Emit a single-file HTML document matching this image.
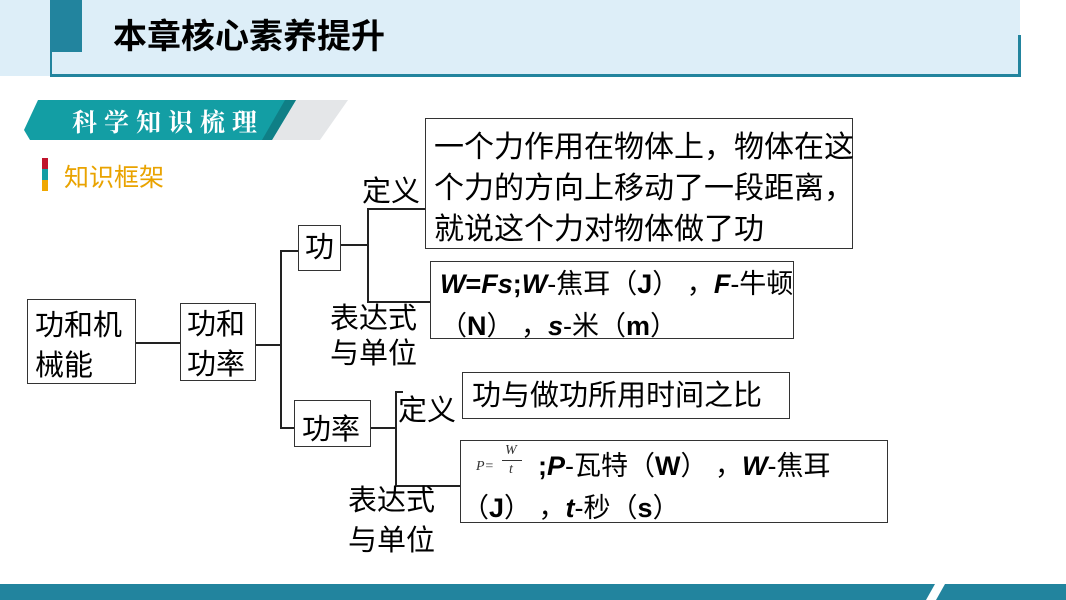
<!DOCTYPE html>
<html><head><meta charset="utf-8"><style>
body{margin:0;width:1066px;height:600px;position:relative;overflow:hidden;background:#fff;font-family:"Liberation Sans","Noto Sans CJK SC",sans-serif;}
.a{position:absolute;}
.box{position:absolute;border:1.5px solid #333;box-sizing:border-box;}
.t{position:absolute;font-size:29px;color:#000;white-space:nowrap;line-height:40px;}
.hl{position:absolute;height:2px;background:#222;}
.vl{position:absolute;width:2px;background:#222;}
</style></head><body>
<div class="a" style="left:0;top:0;width:1020px;height:76px;background:#ddeef8"></div>
<div class="a" style="left:50px;top:0;width:32px;height:52px;background:#22849e"></div>
<div class="a" style="left:50px;top:52px;width:2px;height:24px;background:#22849e"></div>
<div class="a" style="left:50px;top:74px;width:971px;height:3px;background:#22849e"></div>
<div class="a" style="left:1018px;top:35px;width:3px;height:42px;background:#22849e"></div>
<div class="a" style="left:113px;top:17px;font-size:34px;font-weight:bold;line-height:40px">本章核心素养提升</div>
<svg class="a" style="left:0;top:95px" width="360" height="50">
<polygon points="190,5 348,5 320,45 160,45" fill="#e4e6e8"/>
<polygon points="38,5 296,5 272,45 30,45 24,35" fill="#139ea4"/>
<polygon points="285,5 296,5 272,45 262,45" fill="#0f7f86"/>
</svg>
<div class="a" style="left:72px;top:105px;font-size:25px;color:#fff;letter-spacing:7px;font-family:'Noto Serif CJK SC',serif;font-weight:bold;line-height:32px">科学知识梳理</div>
<div class="a" style="left:42px;top:158px;width:6px;height:11px;background:#c0142c"></div>
<div class="a" style="left:42px;top:169px;width:6px;height:11px;background:#139ea4"></div>
<div class="a" style="left:42px;top:180px;width:6px;height:11px;background:#f0a800"></div>
<div class="a" style="left:64px;top:163px;font-size:25px;color:#e9a300;line-height:30px">知识框架</div>

<div class="box" style="left:27px;top:299px;width:109px;height:85px"></div>
<div class="t" style="left:35px;top:306px;line-height:40px">功和机<br>械能</div>
<div class="hl" style="left:136px;top:342px;width:45px"></div>
<div class="box" style="left:180px;top:303px;width:76px;height:78px"></div>
<div class="t" style="left:187px;top:305px;line-height:40px">功和<br>功率</div>
<div class="hl" style="left:256px;top:344px;width:25px"></div>
<div class="vl" style="left:280px;top:250px;height:179px"></div>
<div class="hl" style="left:280px;top:250px;width:18px"></div>
<div class="hl" style="left:280px;top:427px;width:15px"></div>
<div class="box" style="left:298px;top:225px;width:43px;height:46px"></div>
<div class="t" style="left:305px;top:228px">功</div>
<div class="hl" style="left:341px;top:244px;width:28px"></div>
<div class="vl" style="left:367px;top:208px;height:95px"></div>
<div class="hl" style="left:367px;top:208px;width:58px"></div>
<div class="hl" style="left:367px;top:301px;width:63px"></div>
<div class="t" style="left:362px;top:172px">定义</div>
<div class="t" style="left:330px;top:302px;line-height:35px">表达式<br>与单位</div>
<div class="box" style="left:425px;top:118px;width:428px;height:131px"></div>
<div class="t" style="left:434px;top:127px;line-height:41px;font-size:30px">一个力作用在物体上，物体在这<br>个力的方向上移动了一段距离，<br>就说这个力对物体做了功</div>
<div class="box" style="left:430px;top:261px;width:364px;height:78px"></div>
<div class="t" style="left:440px;top:263px;font-size:27px;line-height:42px"><b><i>W</i>=<i>Fs</i>;<i>W</i></b>-焦耳（<b>J</b>） ，<b><i>F</i></b>-牛顿<br>（<b>N</b>） ，<b><i>s</i></b>-米（<b>m</b>）</div>

<div class="box" style="left:294px;top:400px;width:77px;height:47px"></div>
<div class="t" style="left:302px;top:410px">功率</div>
<div class="hl" style="left:371px;top:427px;width:26px"></div>
<div class="vl" style="left:395px;top:391px;height:96px"></div>
<div class="hl" style="left:395px;top:391px;width:8px"></div>
<div class="hl" style="left:395px;top:485px;width:66px"></div>
<div class="t" style="left:398px;top:391px">定义</div>
<div class="t" style="left:348px;top:481px;line-height:40px">表达式<br>与单位</div>
<div class="box" style="left:462px;top:372px;width:328px;height:47px"></div>
<div class="t" style="left:472px;top:376px">功与做功所用时间之比</div>
<div class="box" style="left:460px;top:440px;width:428px;height:83px"></div>
<div class="a" style="left:476px;top:444px;font-family:'Liberation Serif',serif;font-style:italic;font-size:14px;color:#333">
<span style="position:absolute;left:0;top:15px">P=</span>
<span style="position:absolute;left:29px;top:-1px">W</span>
<span style="position:absolute;left:26px;top:16px;width:20px;height:1px;background:#333"></span>
<span style="position:absolute;left:33px;top:18px">t</span>
</div>
<div class="t" style="left:538px;top:445px;font-size:27px;line-height:42px"><b>;<i>P</i></b>-瓦特（<b>W</b>） ，<b><i>W</i></b>-焦耳</div>
<div class="t" style="left:462px;top:487px;font-size:27px;line-height:42px">（<b>J</b>） ，<b><i>t</i></b>-秒（<b>s</b>）</div>

<svg class="a" style="left:0;top:584px" width="1066" height="16">
<polygon points="0,0 935,0 926,16 0,16" fill="#22849e"/>
<polygon points="945,0 1066,0 1066,16 936,16" fill="#22849e"/>
</svg>
</body></html>
